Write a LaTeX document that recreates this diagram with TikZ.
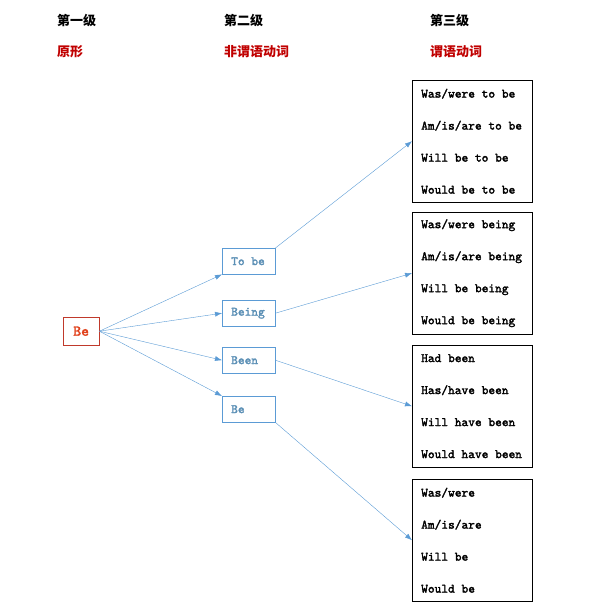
\documentclass[tikz,border=0pt]{standalone}
\usepackage{fontspec}
\newfontfamily\cjk{Noto Sans CJK SC}
\newfontfamily\formfont{lmmono10-regular.otf}[FakeBold=2]
\usetikzlibrary{arrows.meta,positioning}
\definecolor{headred}{HTML}{C00000}
\definecolor{bered}{HTML}{C0392B}
\definecolor{betext}{HTML}{E0401A}
\definecolor{lineblue}{HTML}{5B9BD5}
\definecolor{textblue}{HTML}{5B8FB5}
\tikzstyle{head}=[font=\cjk\bfseries\fontsize{13}{15}\selectfont,anchor=west,inner sep=0pt]
\tikzstyle{kind}=[head,text=headred]
\tikzstyle{root}=[rectangle,draw=bered,text=betext,font=\formfont\fontsize{15}{17}\selectfont,minimum width=36pt,minimum height=28pt,inner sep=0pt,anchor=north west]
\tikzstyle{plainsp}=[execute at begin node={\spaceskip=0pt\xspaceskip=0pt}]
\tikzstyle{nonfin}=[rectangle,draw=lineblue,text=textblue,font=\formfont\fontsize{12.8}{14}\selectfont,text width=35pt,inner xsep=9pt,align=left,plainsp,minimum height=26pt,anchor=north west]
\tikzstyle{finite}=[rectangle,draw=black,font=\formfont\fontsize{12.8}{32}\selectfont,text width=102pt,inner xsep=9pt,align=left,plainsp,minimum height=122pt,anchor=north west]
\tikzstyle{leads}=[-{Latex[length=7pt,width=5pt]},draw=lineblue,thin]

\begin{document}
\begin{tikzpicture}[x=1pt,y=-1pt]
\useasboundingbox (0,0) rectangle (598,614);

% headings
\node (h1) [head] at (57,21) {第一级};
\node (h2) [head] at (224,21) {第二级};
\node (h3) [head] at (430,21) {第三级};
\node (k1) [kind] at (57,52) {原形};
\node (k2) [kind] at (224,52) {非谓语动词};
\node (k3) [kind] at (430,52) {谓语动词};

% level one and two
\node (be) [root] at (63,317) {Be};
\node (tobe) [nonfin] at (222,248) {To be};
\node (being) [nonfin] at (222,300) {Being};
\node (been) [nonfin] at (222,347) {Been};
\node (bare) [nonfin] at (222,396) {Be};

% level three
\node (p1) [finite] at (412,80) {Was/were to be\\Am/is/are to be\\Will be to be\\Would be to be};
\node (p2) [finite] at (412,212) {Was/were being\\Am/is/are being\\Will be being\\Would be being};
\node (p3) [finite] at (412,345) {Had been\\Has/have been\\Will have been\\Would have been};
\node (p4) [finite] at (412,479) {Was/were\\Am/is/are\\Will be\\Would be};

\draw [leads] (be.east) -- (tobe.south west);
\draw [leads] (be.east) -- (being.west);
\draw [leads] (be.east) -- (been.west);
\draw [leads] (be.east) -- (bare.north west);
\draw [leads] (tobe.north east) -- (p1.west);
\draw [leads] (being.east) -- (p2.west);
\draw [leads] (been.east) -- (p3.west);
\draw [leads] (bare.south east) -- (p4.west);

\end{tikzpicture}
\end{document}
